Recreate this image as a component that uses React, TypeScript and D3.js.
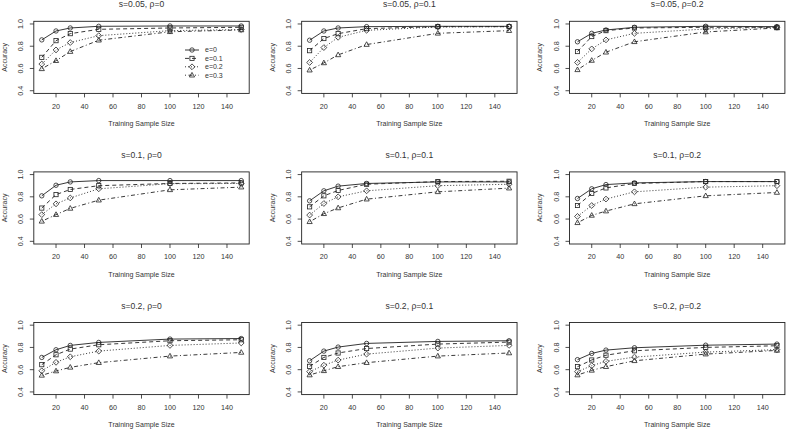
import React from "react";
import * as d3 from "d3";

const sampleSizes = [10, 20, 30, 50, 100, 150];
const errorLabels = ["e=0", "e=0.1", "e=0.2", "e=0.3"];
const xTicks = [20, 40, 60, 80, 100, 120, 140];
const yTicks = [0.4, 0.6, 0.8, 1.0];
const panelTitles = [
  "s=0.05, ρ=0", "s=0.05, ρ=0.1", "s=0.05, ρ=0.2",
  "s=0.1, ρ=0", "s=0.1, ρ=0.1", "s=0.1, ρ=0.2",
  "s=0.2, ρ=0", "s=0.2, ρ=0.1", "s=0.2, ρ=0.2",
];

const accS005R0 = [
  [0.857, 0.937, 0.964, 0.979, 0.982, 0.982],
  [0.70, 0.85, 0.913, 0.952, 0.964, 0.97],
  [0.64, 0.767, 0.833, 0.895, 0.94, 0.95],
  [0.597, 0.67, 0.752, 0.854, 0.93, 0.946],
];
const accS005R01 = [
  [0.854, 0.937, 0.964, 0.976, 0.979, 0.979],
  [0.76, 0.869, 0.913, 0.958, 0.976, 0.976],
  [0.654, 0.788, 0.88, 0.943, 0.973, 0.976],
  [0.585, 0.65, 0.722, 0.815, 0.916, 0.94],
];
const accS005R02 = [
  [0.84, 0.916, 0.946, 0.97, 0.979, 0.976],
  [0.752, 0.887, 0.94, 0.964, 0.97, 0.97],
  [0.654, 0.776, 0.857, 0.916, 0.955, 0.97],
  [0.588, 0.672, 0.746, 0.84, 0.928, 0.964],
];
const accS01R0 = [
  [0.809, 0.904, 0.934, 0.946, 0.946, 0.946],
  [0.699, 0.82, 0.866, 0.90, 0.92, 0.925],
  [0.64, 0.737, 0.79, 0.872, 0.918, 0.92],
  [0.58, 0.64, 0.696, 0.77, 0.863, 0.887],
];
const accS01R01 = [
  [0.764, 0.854, 0.896, 0.92, 0.934, 0.934],
  [0.71, 0.809, 0.857, 0.913, 0.937, 0.94],
  [0.636, 0.74, 0.80, 0.854, 0.90, 0.913],
  [0.576, 0.648, 0.70, 0.779, 0.845, 0.878],
];
const accS01R02 = [
  [0.785, 0.872, 0.91, 0.925, 0.937, 0.937],
  [0.722, 0.83, 0.88, 0.92, 0.937, 0.937],
  [0.624, 0.722, 0.78, 0.845, 0.887, 0.90],
  [0.567, 0.633, 0.672, 0.737, 0.809, 0.839],
];
const accS02R0 = [
  [0.71, 0.779, 0.818, 0.845, 0.875, 0.88],
  [0.645, 0.734, 0.785, 0.824, 0.86, 0.869],
  [0.59, 0.666, 0.716, 0.767, 0.818, 0.84],
  [0.549, 0.588, 0.621, 0.663, 0.722, 0.755],
];
const accS02R01 = [
  [0.68, 0.767, 0.803, 0.836, 0.854, 0.86],
  [0.63, 0.71, 0.75, 0.79, 0.83, 0.848],
  [0.582, 0.64, 0.686, 0.74, 0.794, 0.818],
  [0.552, 0.59, 0.627, 0.663, 0.722, 0.75],
];
const accS02R02 = [
  [0.69, 0.746, 0.776, 0.797, 0.82, 0.83],
  [0.627, 0.687, 0.73, 0.77, 0.80, 0.815],
  [0.582, 0.636, 0.675, 0.713, 0.758, 0.78],
  [0.552, 0.594, 0.627, 0.68, 0.74, 0.773],
];

const panelData = [
  accS005R0, accS005R01, accS005R02,
  accS01R0, accS01R01, accS01R02,
  accS02R0, accS02R01, accS02R02,
];

const W = 786;
const H = 430;
const FONT = "'Liberation Sans', Arial, Helvetica, sans-serif";
const dashes = [null, "4,3", "1,2", "1,2.5,4,2.5"];
const INK = "#222";
const TXT = "#333";

function Symbol({ kind, x, y }: { kind: number; x: number; y: number }) {
  const common = { fill: "none", stroke: INK, strokeWidth: 0.8 };
  if (kind === 0) return <circle cx={x} cy={y} r={2.2} {...common} />;
  if (kind === 1) return <rect x={x - 2.1} y={y - 2.1} width={4.2} height={4.2} {...common} />;
  if (kind === 2)
    return <path d={`M${x},${y - 2.9}L${x + 2.9},${y}L${x},${y + 2.9}L${x - 2.9},${y}Z`} {...common} />;
  return <path d={`M${x},${y - 2.8}L${x + 2.6},${y + 1.8}L${x - 2.6},${y + 1.8}Z`} {...common} />;
}

function Panel({ idx }: { idx: number }) {
  const col = idx % 3;
  const row = Math.floor(idx / 3);
  const left = 33.8 + col * 267.85;
  const top = 21.3 + row * 150.6;
  const pw = 215.4;
  const ph = 72.1;
  const x = d3.scaleLinear().domain([4.4, 155.6]).range([left, left + pw]);
  const y = d3.scaleLinear().domain([0.376, 1.024]).range([top + ph, top]);
  const line = d3
    .line<number>()
    .x((_, i) => x(sampleSizes[i]))
    .y((d) => y(d));
  const series = panelData[idx];
  const bottom = top + ph;
  return (
    <g>
      <rect x={left} y={top} width={pw} height={ph} fill="none" stroke={INK} strokeWidth={0.9} />
      {xTicks.map((t) => (
        <g key={"x" + t}>
          <line x1={x(t)} x2={x(t)} y1={bottom} y2={bottom + 4} stroke={INK} strokeWidth={0.8} />
          <text x={x(t)} y={bottom + 15.2} fontSize={7.2} textAnchor="middle" fill={TXT} fontFamily={FONT}>
            {t}
          </text>
        </g>
      ))}
      {yTicks.map((t) => (
        <g key={"y" + t}>
          <line x1={left - 4} x2={left} y1={y(t)} y2={y(t)} stroke={INK} strokeWidth={0.8} />
          <text
            transform={`translate(${left - 13},${y(t)}) rotate(-90)`}
            dy="0.35em"
            fontSize={7.2}
            textAnchor="middle"
            fill={TXT}
            fontFamily={FONT}
          >
            {t.toFixed(1)}
          </text>
        </g>
      ))}
      <text
        transform={`translate(${left - 29.5},${top + ph / 2}) rotate(-90)`}
        dy="0.35em"
        fontSize={7}
        textAnchor="middle"
        fill={TXT}
        fontFamily={FONT}
      >
        Accuracy
      </text>
      <text x={left + pw / 2} y={y(0.4) + 35.5} fontSize={7} textAnchor="middle" fill={TXT} fontFamily={FONT}>
        Training Sample Size
      </text>
      <text x={left + pw / 2} y={y(1.0) - 16.5} fontSize={8.6} textAnchor="middle" fill={TXT} fontFamily={FONT}>
        {panelTitles[idx]}
      </text>
      {series.map((vals, k) => (
        <g key={"s" + k}>
          <path
            d={line(vals) || ""}
            fill="none"
            stroke={INK}
            strokeWidth={0.9}
            strokeDasharray={dashes[k] || undefined}
          />
          {vals.map((v, i) => (
            <Symbol key={i} kind={k} x={x(sampleSizes[i])} y={y(v)} />
          ))}
        </g>
      ))}
      {idx === 0 &&
        errorLabels.map((lab, k) => {
          const ly = 50 + k * 8.4;
          return (
            <g key={"l" + k}>
              <line x1={185} x2={199} y1={ly} y2={ly} stroke={INK} strokeWidth={0.9} strokeDasharray={dashes[k] || undefined} />
              <Symbol kind={k} x={192} y={ly} />
              <text x={205} y={ly} dy="0.35em" fontSize={7} fill={TXT} fontFamily={FONT}>
                {lab}
              </text>
            </g>
          );
        })}
    </g>
  );
}

export default function App() {
  return (
    <svg width={W} height={H} style={{ position: "absolute", left: 0, top: 0, background: "#fff" }}>
      <rect x={0} y={0} width={W} height={H} fill="#fff" />
      {panelTitles.map((_, i) => (
        <Panel key={i} idx={i} />
      ))}
    </svg>
  );
}
